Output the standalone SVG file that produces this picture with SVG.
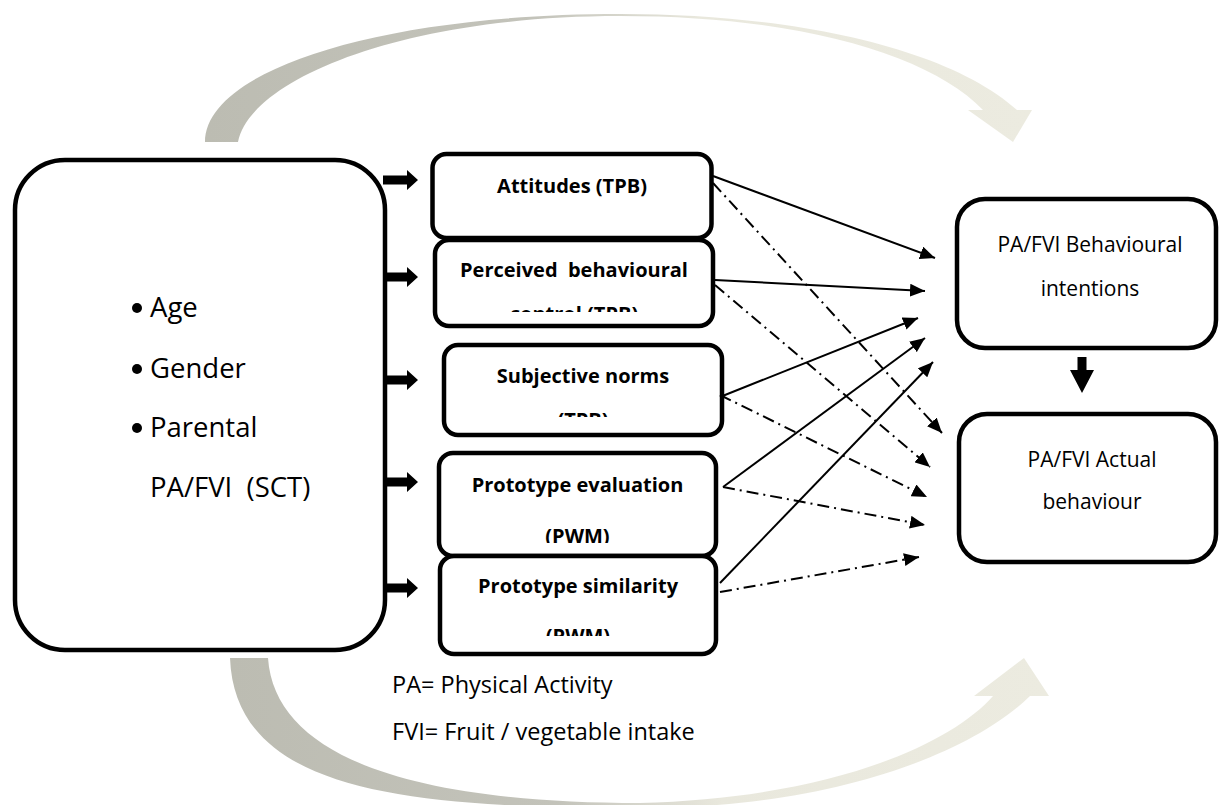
<svg xmlns="http://www.w3.org/2000/svg" width="1220" height="805" viewBox="0 0 1220 805">
<defs>
  <linearGradient id="gTop" gradientUnits="userSpaceOnUse" x1="205" y1="0" x2="1032" y2="0">
    <stop offset="0" stop-color="#bcbcb2"/>
    <stop offset="0.4" stop-color="#c3c3ba"/>
    <stop offset="0.6" stop-color="#e9e8dd"/>
    <stop offset="1" stop-color="#ecebe0"/>
  </linearGradient>
  <linearGradient id="gBot" gradientUnits="userSpaceOnUse" x1="230" y1="0" x2="1049" y2="0">
    <stop offset="0" stop-color="#bcbcb2"/>
    <stop offset="0.4" stop-color="#c3c3ba"/>
    <stop offset="0.6" stop-color="#e9e8dd"/>
    <stop offset="1" stop-color="#ecebe0"/>
  </linearGradient>
  <marker id="ah" markerUnits="userSpaceOnUse" markerWidth="16" markerHeight="13" refX="15" refY="6.5" orient="auto">
    <path d="M0,0 L15,6.5 L0,13 z" fill="#000"/>
  </marker>
  <clipPath id="cPBC"><rect x="437" y="242" width="274" height="70"/></clipPath>
  <clipPath id="cSN"><rect x="446" y="347" width="274" height="70"/></clipPath>
  <clipPath id="cPE"><rect x="441" y="455" width="273" height="88"/></clipPath>
  <clipPath id="cPS"><rect x="442" y="558" width="272" height="78"/></clipPath>
</defs>
<style>
  .box{fill:#fff;stroke:#000;stroke-width:4.5}
  .t{font-family:"Open Sans","Liberation Sans",sans-serif;fill:#000}
  .b{font-weight:bold;font-size:20px;text-anchor:middle}
  .r{font-size:21px;text-anchor:middle}
  .blk{fill:#000}
  .solid{stroke:#000;stroke-width:2;fill:none;marker-end:url(#ah)}
  .dd{stroke:#000;stroke-width:2;fill:none;stroke-dasharray:12 5 2 5;marker-end:url(#ah)}
</style>

<g id="feedback-arcs">
  <path fill="url(#gTop)" d="M205,142 C205,70 380,14 620,14 C800,14 950,50 1017,110 L1032,110 L1013,142 L968,110 L983,110 C930,55 800,16 620,16 C400,16 250,80 238,142 Z"/>
  <path fill="url(#gBot)" d="M230,658 C235,790 400,808 640,808 C840,808 975,750 1030,696 L1049,696 L1024,658 L974,696 L993,696 C950,745 830,798 640,803 C420,803 275,760 268,658 Z"/>
</g>

<g id="node-sct">
  <rect class="box" x="15" y="160" width="370" height="490" rx="50" ry="50"/>
  <circle cx="137" cy="308" r="5"/>
  <circle cx="137" cy="369" r="5"/>
  <circle cx="137" cy="428" r="5"/>
  <text class="t" font-size="27.5" x="150" y="317">Age</text>
  <text class="t" font-size="27.5" x="150" y="378">Gender</text>
  <text class="t" font-size="27.5" x="150" y="437">Parental</text>
  <text class="t" font-size="27.5" x="150" y="497" xml:space="preserve">PA/FVI  (SCT)</text>
</g>

<g id="node-attitudes">
  <rect class="box" x="432.5" y="154" width="279" height="84" rx="14"/>
  <text class="t b" x="572" y="193">Attitudes (TPB)</text>
</g>
<g id="node-pbc">
  <rect class="box" x="435" y="240" width="278" height="86" rx="14"/>
  <g clip-path="url(#cPBC)">
    <text class="t b" x="574" y="277" xml:space="preserve">Perceived  behavioural</text>
    <text class="t b" x="574" y="321">control (TPB)</text>
  </g>
</g>
<g id="node-subjective">
  <rect class="box" x="444" y="345" width="278" height="90" rx="14"/>
  <g clip-path="url(#cSN)">
    <text class="t b" x="583" y="383">Subjective norms</text>
    <text class="t b" x="583" y="427">(TPB)</text>
  </g>
</g>
<g id="node-proto-eval">
  <rect class="box" x="439" y="453" width="277" height="103" rx="14"/>
  <g clip-path="url(#cPE)">
    <text class="t b" x="577.5" y="492">Prototype evaluation</text>
    <text class="t b" x="577.5" y="543">(PWM)</text>
  </g>
</g>
<g id="node-proto-sim">
  <rect class="box" x="440" y="556" width="276" height="98" rx="14"/>
  <g clip-path="url(#cPS)">
    <text class="t b" x="578" y="593">Prototype similarity</text>
    <text class="t b" x="578" y="643">(PWM)</text>
  </g>
</g>

<g id="node-intentions">
  <rect class="box" x="957" y="199" width="259" height="149" rx="28"/>
  <text class="t r" x="1090" y="252">PA/FVI Behavioural</text>
  <text class="t r" x="1090" y="296">intentions</text>
</g>
<g id="node-behaviour">
  <rect class="box" x="959" y="414" width="257" height="148" rx="28"/>
  <text class="t r" x="1092" y="467">PA/FVI Actual</text>
  <text class="t r" x="1092" y="509">behaviour</text>
</g>

<g id="legend">
  <text class="t" font-size="23.5" x="392" y="693">PA= Physical Activity</text>
  <text class="t" font-size="23.5" x="392" y="740">FVI= Fruit / vegetable intake</text>
</g>

<g id="connectors">
  <path class="blk" d="M383,175.5 H407 V170 L418,180 L407,190 V184.5 H383 Z"/>
  <path class="blk" d="M383,272.5 H407 V267 L418,277 L407,287 V281.5 H383 Z"/>
  <path class="blk" d="M383,375.5 H407 V370 L418,380 L407,390 V384.5 H383 Z"/>
  <path class="blk" d="M383,477.5 H407 V472 L418,482 L407,492 V486.5 H383 Z"/>
  <path class="blk" d="M383,583.5 H407 V578 L418,588 L407,598 V592.5 H383 Z"/>
  <path class="blk" d="M1077.5,357 H1086.5 V370 H1094 L1082,393 L1070,370 H1077.5 Z"/>

  <path class="solid" d="M713,176 L935,258"/>
  <path class="solid" d="M715,280 L925,291"/>
  <path class="solid" d="M720,397 L918,318"/>
  <path class="solid" d="M723,487 L925,338"/>
  <path class="solid" d="M720,583 L933,362"/>

  <path class="dd" d="M713,183 L942,433"/>
  <path class="dd" d="M715,285 L930,467"/>
  <path class="dd" d="M720,395 L927,497"/>
  <path class="dd" d="M723,487 L925,525"/>
  <path class="dd" d="M720,592 L919,557"/>
</g>
</svg>
